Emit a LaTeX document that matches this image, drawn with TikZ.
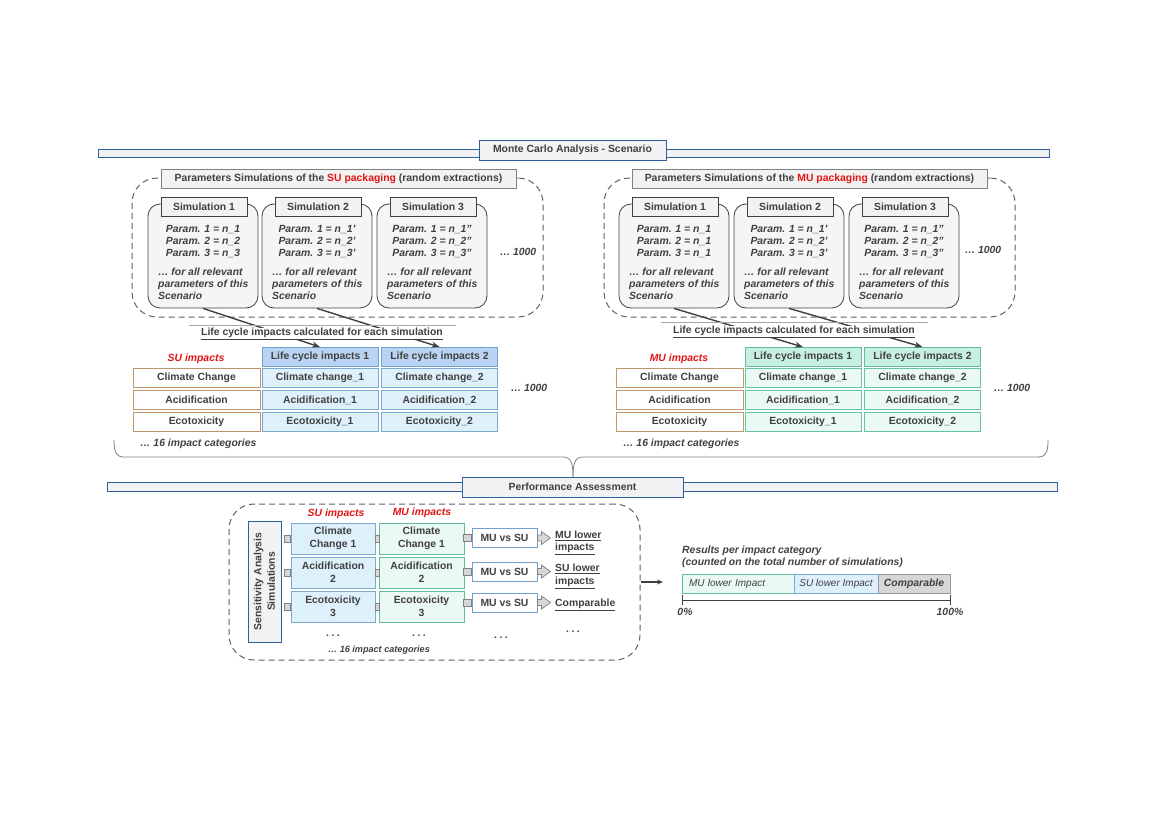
\documentclass[tikz,border=0pt]{standalone}
\usepackage{fontspec}
\setmainfont{Liberation Sans}
\usetikzlibrary{positioning,arrows.meta}
\definecolor{textGray}{RGB}{64,64,64}
\definecolor{barBlue}{RGB}{46,95,158}
\definecolor{panelGray}{RGB}{242,242,242}
\definecolor{dashGray}{RGB}{88,98,112}
\definecolor{suHead}{RGB}{184,212,242}
\definecolor{suHeadLine}{RGB}{112,160,205}
\definecolor{suCellFill}{RGB}{222,241,251}
\definecolor{suCellLine}{RGB}{125,168,207}
\definecolor{muHead}{RGB}{200,240,224}
\definecolor{muHeadLine}{RGB}{96,190,152}
\definecolor{muCellFill}{RGB}{234,249,243}
\definecolor{muCellLine}{RGB}{102,196,160}
\definecolor{catLine}{RGB}{190,150,110}
\definecolor{redText}{RGB}{227,20,20}
\definecolor{stubGray}{RGB}{215,215,215}
\newcommand{\baseFont}{\fontsize{10.4}{12.5}\selectfont\bfseries}
\newcommand{\paramFont}{\fontsize{10.4}{12}\selectfont\bfseries\itshape}
\newcommand{\smallNoteFont}{\fontsize{9.1}{11}\selectfont\bfseries\itshape}
\newcommand{\lightItalic}{\fontsize{10}{12}\selectfont\itshape}
\tikzstyle{diagram} = [x=1pt, y=-1pt, every node/.style={text=textGray, font=\baseFont, inner sep=0pt}]
\tikzstyle{phaseBar} = [draw=barBlue, fill=panelGray, line width=1pt]
\tikzstyle{phaseTitle} = [draw=barBlue, fill=panelGray, line width=1pt, minimum height=20]
\tikzstyle{dashedRegion} = [draw=dashGray, dash pattern=on 6pt off 4pt, rounded corners=25pt, line width=1pt]
\tikzstyle{panelTitle} = [draw=gray, fill=panelGray, minimum width=355, minimum height=19, line width=0.9pt]
\tikzstyle{simBody} = [draw=textGray, fill=panelGray!80, rounded corners=12pt, minimum width=110, minimum height=104, line width=0.8pt]
\tikzstyle{simLabel} = [draw=textGray, fill=panelGray, minimum width=86, minimum height=19, line width=0.8pt]
\tikzstyle{paramText} = [font=\paramFont, align=center]
\tikzstyle{noteText} = [font=\paramFont]
\tikzstyle{impactsLabel} = [text=redText, font=\paramFont]
\tikzstyle{calcArrow} = [draw=textGray, line width=1.4pt, -{Stealth[length=8pt, width=6pt]}]
\tikzstyle{calcText} = [fill=white, inner xsep=2pt, inner ysep=0.5pt]
\tikzstyle{thinRule} = [draw=gray!70, line width=0.8pt]
\tikzstyle{categoryCell} = [draw=catLine, fill=white, minimum width=127, minimum height=19, line width=0.9pt]
\tikzstyle{suHeadCell} = [draw=suHeadLine, fill=suHead, minimum width=116, minimum height=19, line width=1pt]
\tikzstyle{suCell} = [draw=suCellLine, fill=suCellFill, minimum width=116, minimum height=19, line width=1pt]
\tikzstyle{muHeadCell} = [draw=muHeadLine, fill=muHead, minimum width=116, minimum height=19, line width=1pt]
\tikzstyle{muCell} = [draw=muCellLine, fill=muCellFill, minimum width=116, minimum height=19, line width=1pt]
\tikzstyle{braceLine} = [draw=gray, line width=0.8pt]
\tikzstyle{sensBox} = [draw=barBlue, fill=panelGray, line width=0.9pt, align=center, font=\fontsize{10.4}{13.5}\selectfont\bfseries]
\tikzstyle{suBlock} = [draw=suCellLine, fill=suCellFill, minimum width=84, minimum height=31, line width=1pt, align=center, font=\fontsize{10.4}{13}\selectfont\bfseries]
\tikzstyle{muBlock} = [draw=muHeadLine, fill=muCellFill, minimum width=85, minimum height=31, line width=1pt, align=center, font=\fontsize{10.4}{13}\selectfont\bfseries]
\tikzstyle{vsBox} = [draw=suHeadLine, fill=white, minimum width=65, minimum height=19, line width=1pt]
\tikzstyle{stub} = [draw=gray, fill=stubGray, line width=0.7pt]
\tikzstyle{resultText} = [align=left]
\tikzstyle{resultArrow} = [draw=textGray, line width=1.2pt, -{Stealth[length=6pt, width=5pt]}]
\newcommand{\simulation}[6]{
  \node[simBody] (#1) at (#2+55, 256) {};
  \node[simLabel] (#1Label) at (#2+56, 206.5) {Simulation #3};
  \node[paramText] (#1Param) at (#2+55, 242) {Param. 1 = #4\\Param. 2 = #5\\Param. 3 = #6};
  \node[noteText, align=left, anchor=west] (#1Note) at (#2+10, 283.5) {… for all relevant\\parameters of this\\Scenario};
}
\newcommand{\impactTable}[5]{
  \node[impactsLabel] (#1Label) at (#2+63, 359) {#5};
  \node[#3] (#1Head1) at (#2+187, 357) {Life cycle impacts 1};
  \node[#3] (#1Head2) at (#2+306.5, 357) {Life cycle impacts 2};
  \foreach \category/\short [count=\row] in {Climate Change/Climate change, Acidification/Acidification, Ecotoxicity/Ecotoxicity} {
    \node[categoryCell] (#1Cat\row) at (#2+63.5, 356+22*\row) {\category};
    \node[#4] (#1CellA\row) at (#2+187, 356+22*\row) {\short\_1};
    \node[#4] (#1CellB\row) at (#2+306.5, 356+22*\row) {\short\_2};
  }
  \node[noteText] (#1More) at (#2+396, 388) {… 1000};
  \node[noteText, anchor=west] (#1Count) at (#2+7, 444) {… 16 impact categories};
}
\newcommand{\assessRow}[5]{
  \node[suBlock] (su#1) at (333, #2) {#3};
  \node[muBlock] (mu#1) at (421.5, #2) {#3};
  \node[vsBox] (vs#1) at (504.5, #4) {MU vs SU};
  \draw[stub, shift={(su#1.west)}] (-6,-3.5) rectangle (0,3.5);
  \draw[stub, shift={(su#1.east)}] (0,-3.5) rectangle (4,3.5);
  \draw[stub, shift={(vs#1.west)}] (-8,-3.5) rectangle (0,3.5);
  \draw[stub, shift={(vs#1.east)}] (0,-3) -- (4,-3) -- (4,-6.5) -- (13,0) -- (4,6.5) -- (4,3) -- (0,3) -- cycle;
  \node[resultText, anchor=west] (res#1) at (555, #5) {\resultLabel};
}
\begin{document}
\begin{tikzpicture}[diagram]
  \useasboundingbox (0,0) rectangle (1169,827);

  \node[phaseBar, minimum width=951, minimum height=8] (mcBar) at (573.5,153) {};
  \node[phaseTitle, minimum width=187] (mcTitle) at (572.5,150) {Monte Carlo Analysis - Scenario};

  \node[dashedRegion, minimum width=411, minimum height=139] (suRegion) at (337.5,247.5) {};
  \node[panelTitle] (suTitle) at (338.5,178.5) {Parameters Simulations of the \textcolor{redText}{SU packaging} (random extractions)};
  \simulation{suSim1}{148}{1}{n\_1}{n\_2}{n\_3}
  \simulation{suSim2}{262}{2}{n\_1'}{n\_2'}{n\_3'}
  \simulation{suSim3}{377}{3}{n\_1''}{n\_2''}{n\_3''}
  \node[noteText] (suMore) at (518,252) {… 1000};

  \node[dashedRegion, minimum width=411, minimum height=139] (muRegion) at (809.5,247.5) {};
  \node[panelTitle] (muTitle) at (809.5,179) {Parameters Simulations of the \textcolor{redText}{MU packaging} (random extractions)};
  \simulation{muSim1}{619}{1}{n\_1}{n\_1}{n\_1}
  \simulation{muSim2}{734}{2}{n\_1'}{n\_2'}{n\_3'}
  \simulation{muSim3}{849}{3}{n\_1''}{n\_2''}{n\_3''}
  \node[noteText] (muMore) at (983,250) {… 1000};

  \impactTable{su}{133}{suHeadCell}{suCell}{SU impacts}
  \impactTable{mu}{616}{muHeadCell}{muCell}{MU impacts}

  \draw[calcArrow] (suSim1.south) -- (suHead1.north);
  \draw[calcArrow] (suSim2.south) -- (suHead2.north);
  \draw[calcArrow] (muSim1.south) -- (muHead1.north);
  \draw[calcArrow] (muSim2.south) -- (muHead2.north);
  \node[calcText] (suCalc) at (322,334) {\underline{Life cycle impacts calculated for each simulation}};
  \node[calcText] (muCalc) at (794,332) {\underline{Life cycle impacts calculated for each simulation}};
  \draw[thinRule] (189,325) -- (456,325);
  \draw[thinRule] (661,322) -- (928,322);

  \draw[braceLine] (114,440) .. controls (114,452) and (116,457) .. (124,457) -- (563,457) .. controls (571,457) and (573,463) .. (573,477);
  \draw[braceLine] (573,477) .. controls (573,463) and (575,457) .. (583,457) -- (1038,457) .. controls (1046,457) and (1048,452) .. (1048,440);

  \node[phaseBar, minimum width=950, minimum height=9] (paBar) at (582,486.5) {};
  \node[phaseTitle, minimum width=221] (paTitle) at (572.5,487) {Performance Assessment};

  \node[dashedRegion, minimum width=411, minimum height=156] (paRegion) at (434.5,582) {};
  \node[sensBox, rotate=90, minimum width=121, minimum height=33] (sens) at (264.5,581.5) {Sensitivity Analysis\\Simulations};
  \node[impactsLabel] (suImpacts) at (336,514) {SU impacts};
  \node[impactsLabel] (muImpacts) at (422,513) {MU impacts};
  \def\resultLabel{\underline{MU lower}\\\underline{impacts}}
  \assessRow{1}{538.5}{Climate\\Change 1}{538}{543}
  \def\resultLabel{\underline{SU lower}\\\underline{impacts}}
  \assessRow{2}{572.5}{Acidification\\2}{571.5}{576.5}
  \def\resultLabel{\underline{Comparable}}
  \assessRow{3}{606.5}{Ecotoxicity\\3}{602.5}{605}
  \foreach \dotX/\dotY [count=\n] in {333/636, 419/636, 501/638, 573/632}
    \node[anchor=base] (dots\n) at (\dotX,\dotY) {.\hspace{2.5pt}.\hspace{2.5pt}.};
  \node[font=\smallNoteFont] (paCount) at (379,650) {… 16 impact categories};

  \coordinate (resultsIn) at (663,582);
  \draw[resultArrow] (paRegion.east) -- (resultsIn);
  \node[noteText, align=left, anchor=west] (resTitle) at (682,557) {Results per impact category\\(counted on the total number of simulations)};
  \node[draw=muHeadLine, fill=muCellFill, line width=1pt, minimum height=19, text width=98, inner xsep=7pt, align=left, font=\lightItalic] (barMU) at (738,583.5) {MU lower Impact};
  \node[draw=suCellLine, fill=suCellFill, line width=1pt, minimum height=19, minimum width=84, font=\lightItalic] (barSU) at (836,583.5) {SU lower Impact};
  \node[draw=gray!80, fill=stubGray, line width=1pt, minimum height=19, minimum width=72, font=\paramFont] (barEq) at (914,583.5) {Comparable};
  \draw[textGray, line width=1pt] (682,600) -- (950,600);
  \draw[textGray, line width=1pt] (682,595) -- (682,605);
  \draw[textGray, line width=1pt] (950,595) -- (950,605);
  \node[noteText] (zeroPct) at (685,612) {0\%};
  \node[noteText] (fullPct) at (950,612) {100\%};
\end{tikzpicture}
\end{document}
